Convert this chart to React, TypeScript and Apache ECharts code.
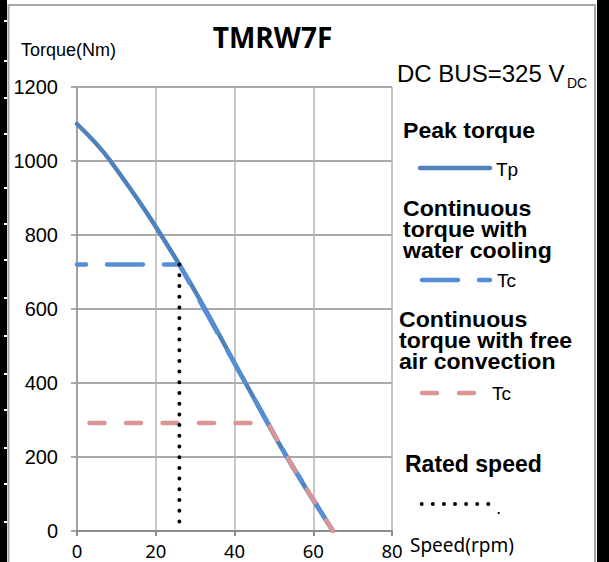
import React, { useEffect, useRef } from 'react';
import * as echarts from 'echarts';

// ---- data ----
const speedTicks = [0, 20, 40, 60, 80];
const torqueTicks = [0, 200, 400, 600, 800, 1000, 1200];

const peakSpeed = [0, 8.5, 26, 42.8, 53.3, 65];
const peakTorque = [1100, 1000, 720, 400, 200, 0];

const waterSpeed = [0, 26, 42.8, 53.3, 65];
const waterTorque = [720, 720, 400, 200, 0];

const airSpeed = [0, 48.5, 53.3, 65];
const airTorque = [292, 292, 200, 0];

const ratedSpeed = [26, 26];
const ratedTorque = [720, 0];

const notchYs = [20, 60, 97, 133, 187, 223, 259, 297, 335, 373, 409, 447, 483, 521];

const BLUE = '#4f81bd';
const BLUE2 = '#558ed5';
const PINK = '#d99694';
const ARIAL = '"Liberation Sans", Arial, sans-serif';
const SANS = '"Noto Sans", "Open Sans", sans-serif';

const pairs = (xs: number[], ys: number[]) => xs.map((x, i) => [x, ys[i]]);

function txt(text: string, x: number, y: number, size: number, opts: any = {}) {
  return {
    type: 'text',
    x,
    y,
    z: 10,
    scaleX: opts.scaleX || 1,
    style: {
      text,
      fontSize: size,
      fontFamily: opts.family || ARIAL,
      fontWeight: opts.weight || 'normal',
      fill: '#000',
      align: opts.align || 'left',
      verticalAlign: opts.valign || 'middle',
      lineHeight: opts.lineHeight,
    },
  };
}

function lineEl(x1: number, y1: number, x2: number, y2: number, stroke: string, width: number, dash?: number[]) {
  return {
    type: 'line',
    z: 10,
    shape: { x1, y1, x2, y2 },
    style: { stroke, lineWidth: width, lineCap: 'round', lineDash: dash || null },
  };
}

export default function App() {
  const ref = useRef<HTMLDivElement>(null);

  useEffect(() => {
    if (!ref.current) return;
    const chart = echarts.init(ref.current, undefined, { renderer: 'svg' });

    const graphic: any[] = [
      { type: 'rect', z: 0, shape: { x: 0, y: 0, width: 7, height: 562 }, style: { fill: '#000' } },
      { type: 'rect', z: 0, shape: { x: 597, y: 0, width: 12, height: 562 }, style: { fill: '#000' } },
      ...notchYs.map((y) => ({ type: 'rect', z: 1, shape: { x: 4, y, width: 3, height: 2 }, style: { fill: '#fff' } })),
      { type: 'rect', z: 0, shape: { x: 8.5, y: 5, width: 586.5, height: 620 }, style: { fill: 'none', stroke: '#a6a6a6', lineWidth: 2 } },

      txt('TMRW7F', 272.5, 37, 28, { weight: 'bold', family: '"Open Sans", sans-serif', align: 'center' }),
      txt('Torque(Nm)', 21, 50, 18),
      txt('DC BUS=325 V', 397, 73.5, 24),
      txt('DC', 567, 83, 14),

      txt('Peak torque', 403, 131, 22, { weight: 'bold', scaleX: 1.05 }),
      lineEl(420, 168, 490, 168, BLUE, 4.5),
      txt('Tp', 496, 169, 19),

      txt('Continuous\ntorque with\nwater cooling', 403, 198.5, 22, { weight: 'bold', scaleX: 1.05, valign: 'top', lineHeight: 20.7 }),
      lineEl(422, 280, 490, 280, BLUE2, 4.5, [36, 21]),
      txt('Tc', 497, 280, 19),

      txt('Continuous\ntorque with free\nair convection', 399, 309.5, 22, { weight: 'bold', scaleX: 1.05, valign: 'top', lineHeight: 20.7 }),
      lineEl(422, 393, 477, 393, PINK, 4.5, [15, 22]),
      txt('Tc', 492, 393, 19),

      txt('Rated speed', 405, 463.5, 23, { weight: 'bold' }),
      lineEl(421.7, 504, 488.5, 504, '#000', 4, [0, 11.1]),
      txt('.', 496, 507, 19),

      txt('Speed(rpm)', 410, 545, 19, { family: SANS }),
    ];

    const option: any = {
      animation: false,
      backgroundColor: '#fff',
      grid: { left: 77, right: 217, top: 87, bottom: 31, containLabel: false },
      xAxis: {
        type: 'value',
        min: speedTicks[0],
        max: speedTicks[speedTicks.length - 1],
        interval: 20,
        axisLine: { show: true, onZero: false, lineStyle: { color: '#8c8c8c', width: 2 } },
        axisTick: { show: true, length: 5, lineStyle: { color: '#8c8c8c', width: 2 } },
        axisLabel: { margin: 19, verticalAlign: 'middle', fontFamily: SANS, fontSize: 18.5, color: '#000', formatter: (v: number) => String(v) },
        splitLine: { show: true, lineStyle: { color: '#b4b4b4', width: 1.5 } },
      },
      yAxis: {
        type: 'value',
        min: torqueTicks[0],
        max: torqueTicks[torqueTicks.length - 1],
        interval: 200,
        axisLine: { show: true, lineStyle: { color: '#a0a0a0', width: 2 } },
        axisTick: { show: true, length: 6, lineStyle: { color: '#8c8c8c', width: 1.5 } },
        axisLabel: { margin: 19, fontFamily: ARIAL, fontSize: 20, color: '#000', formatter: (v: number) => String(v) },
        splitLine: { show: true, lineStyle: { color: '#8c8c8c', width: 1.5 } },
      },
      graphic,
      series: [
        {
          name: 'Tp',
          type: 'line',
          data: pairs(peakSpeed, peakTorque),
          smooth: 0.4,
          symbol: 'none',
          lineStyle: { color: BLUE, width: 4.5, cap: 'round' },
          z: 3,
        },
        {
          name: 'Tc water',
          type: 'line',
          data: pairs(waterSpeed, waterTorque),
          symbol: 'none',
          lineStyle: { color: BLUE2, width: 4.5, type: [36, 21], dashOffset: 27, cap: 'round' },
          z: 4,
        },
        {
          name: 'Tc air',
          type: 'line',
          data: pairs(airSpeed, airTorque),
          symbol: 'none',
          lineStyle: { color: PINK, width: 4.5, type: [15, 21.5], dashOffset: 24.25, cap: 'round' },
          z: 5,
        },
        {
          name: 'Rated speed',
          type: 'line',
          data: pairs(ratedSpeed, ratedTorque),
          symbol: 'none',
          lineStyle: { color: '#000', width: 4, type: [0, 10.7], cap: 'round' },
          z: 6,
        },
      ],
    };

    chart.setOption(option);
    return () => chart.dispose();
  }, []);

  return (
    <div
      ref={ref}
      style={{ position: 'fixed', left: 0, top: 0, width: 609, height: 562, background: '#fff' }}
    />
  );
}
